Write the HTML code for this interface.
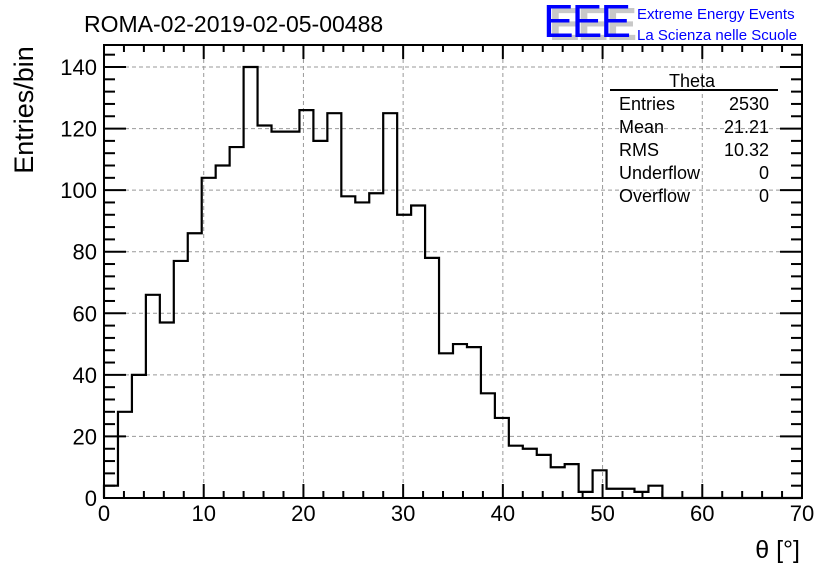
<!DOCTYPE html>
<html><head><meta charset="utf-8"><style>
body{margin:0;background:#fff;}
svg{display:block;font-family:"Liberation Sans",sans-serif;}
</style></head><body>
<svg id="c" width="836" height="572">
<text x="84" y="32" font-size="23">ROMA-02-2019-02-05-00488</text>
<g>
<text x="549" y="40" font-size="46" fill="#c8c8c8" font-weight="bold" letter-spacing="-2">EEE</text>
<text x="543" y="37" font-size="46" fill="#0000ff" letter-spacing="-2">EEE</text>
<text x="637" y="19" font-size="15" fill="#0000ff">Extreme Energy Events</text>
<text x="637" y="40" font-size="15" fill="#0000ff">La Scienza nelle Scuole</text>
</g>
<text transform="translate(33,110) rotate(-90)" text-anchor="middle" font-size="27">Entries/bin</text>
<text x="800" y="558" text-anchor="end" font-size="25">θ [°]</text>
<g id="grid"></g><g id="hist"></g><g id="axes"></g>
<g font-size="18">
<text x="692" y="87" text-anchor="middle">Theta</text>
<line x1="610" y1="90" x2="778" y2="90" stroke="#000" stroke-width="2"/>
<text x="619" y="110">Entries</text><text x="769" y="110" text-anchor="end">2530</text>
<text x="619" y="133">Mean</text><text x="769" y="133" text-anchor="end">21.21</text>
<text x="619" y="156">RMS</text><text x="769" y="156" text-anchor="end">10.32</text>
<text x="619" y="179">Underflow</text><text x="769" y="179" text-anchor="end">0</text>
<text x="619" y="202">Overflow</text><text x="769" y="202" text-anchor="end">0</text>
</g>
</svg>
<script>
const binWidth = 1.4;
const counts = [4,28,40,66,57,77,86,104,108,114,140,121,119,119,126,116,125,98,96,99,125,92,95,78,47,50,49,34,26,17,16,14,10,11,2,9,3,3,2,4];
const xTicks = [0,10,20,30,40,50,60,70];
const yTicks = [0,20,40,60,80,100,120,140];
const L=104,R=802,T=45,B=498;
const X=v=>L+(v/70)*(R-L);
const Y=v=>B-(v-0)*(B-67)/140;
const NS="http://www.w3.org/2000/svg";
function mk(tag,attrs,parent){const e=document.createElementNS(NS,tag);for(const k in attrs)e.setAttribute(k,attrs[k]);parent.appendChild(e);return e;}
const grid=document.getElementById('grid'),hist=document.getElementById('hist'),axes=document.getElementById('axes');
xTicks.forEach(t=>{if(t>0&&t<70){const l=mk('line',{x1:X(t),x2:X(t),y1:T,y2:B,stroke:'#999','stroke-dasharray':'4,3','stroke-width':1},grid);

}});
yTicks.forEach(t=>{if(t>0){const l=mk('line',{x1:L,x2:R,y1:Y(t),y2:Y(t),stroke:'#999','stroke-dasharray':'4,3','stroke-width':1},grid);

}});
let d='M'+X(0)+','+Y(0);
counts.forEach((c,i)=>{d+=' L'+X(i*binWidth)+','+Y(c)+' L'+X((i+1)*binWidth)+','+Y(c);});
d+=' L'+X(counts.length*binWidth)+','+Y(0)+' L'+X(70)+','+Y(0);
const p=mk('path',{d:d,fill:'none',stroke:'#000','stroke-width':2.2},hist);


const f=mk('rect',{x:L,y:T,width:R-L,height:B-T,fill:'none',stroke:'#000','stroke-width':2},axes);


for(let v=0;v<=70;v+=2){const len=v%10===0?14:7;
mk('line',{x1:X(v),x2:X(v),y1:B,y2:B-len,stroke:'#000','stroke-width':2},axes);
mk('line',{x1:X(v),x2:X(v),y1:T,y2:T+len,stroke:'#000','stroke-width':2},axes);}
for(let v=0;v<=146;v+=4){const len=v%20===0?22:11;
mk('line',{x1:L,x2:L+len,y1:Y(v),y2:Y(v),stroke:'#000','stroke-width':2},axes);
mk('line',{x1:R,x2:R-len,y1:Y(v),y2:Y(v),stroke:'#000','stroke-width':2},axes);}
xTicks.forEach(t=>{const e=mk('text',{x:X(t),y:521,'text-anchor':'middle','font-size':22},axes);e.textContent=t;

});
yTicks.forEach(t=>{const e=mk('text',{x:97,y:Y(t)+8,'text-anchor':'end','font-size':22},axes);e.textContent=t;

});
</script>
</body></html>
